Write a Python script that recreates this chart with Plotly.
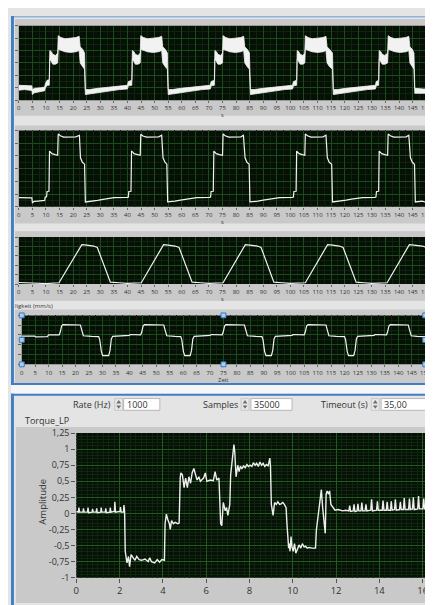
import plotly.graph_objects as go

# ---------------- data ----------------
# Panel 1: noisy torque band (lower / upper envelope), y in grid divisions 0..6
p1_t = [0, 2.0, 4.8, 5.0, 5.8, 8.0, 9.5, 9.8, 10.4, 11.2,
        11.4, 12.0, 12.5, 13.5, 14.3, 14.5, 15.5, 17.0, 19.0, 21.0, 22.2, 22.6, 23.5, 24.2,
        24.5, 26.0, 29.0, 33.0, 37.0, 40.0, 40.3, 41.6,
        41.8, 42.4, 42.9, 43.9, 44.7, 44.9, 45.9, 47.4, 49.4, 51.4, 52.6, 53.0, 53.9, 54.7,
        55.0, 56.5, 59.5, 63.5, 67.5, 70.5, 70.8, 72.0,
        72.2, 72.8, 73.3, 74.3, 75.0, 75.2, 76.2, 77.7, 79.7, 81.7, 82.8, 83.2, 84.1, 84.9,
        85.3, 86.8, 89.8, 93.8, 97.8, 100.8, 101.1, 102.3,
        102.5, 103.1, 103.6, 104.6, 105.3, 105.5, 106.5, 108.0, 110.0, 112.0, 113.1, 113.5, 114.4, 115.5,
        115.8, 117.3, 120.3, 124.3, 128.3, 131.3, 131.6, 132.5,
        132.7, 133.3, 133.8, 134.8, 135.8, 136.0, 137.0, 138.5, 140.5, 142.5, 143.6, 144.0, 144.9, 145.5,
        145.8, 147.5, 149.0, 150]
p1_lo = [0.80, 0.85, 0.78, 0.45, 0.60, 0.68, 0.75, 1.00, 1.20, 1.20,
         3.30, 3.10, 2.90, 2.90, 3.00, 4.10, 4.00, 3.90, 3.85, 3.90, 4.00, 3.00, 2.70, 2.50,
         0.45, 0.50, 0.60, 0.75, 0.85, 0.90, 1.15, 1.20,
         3.30, 3.10, 2.90, 2.90, 3.00, 4.10, 4.00, 3.90, 3.85, 3.90, 4.00, 3.00, 2.70, 2.50,
         0.45, 0.50, 0.60, 0.75, 0.85, 0.90, 1.15, 1.20,
         3.30, 3.10, 2.90, 2.90, 3.00, 4.10, 4.00, 3.90, 3.85, 3.90, 4.00, 3.00, 2.70, 2.50,
         0.45, 0.50, 0.60, 0.75, 0.85, 0.90, 1.15, 1.20,
         3.30, 3.10, 2.90, 2.90, 3.00, 4.10, 4.00, 3.90, 3.85, 3.90, 4.00, 3.00, 2.70, 2.50,
         0.45, 0.50, 0.60, 0.75, 0.85, 0.90, 1.15, 1.20,
         3.30, 3.10, 2.90, 2.90, 3.00, 4.10, 4.00, 3.90, 3.85, 3.90, 4.00, 3.00, 2.70, 2.50,
         0.55, 0.55, 0.50, 0.55]
p1_hi = [1.20, 1.18, 1.15, 0.85, 0.95, 1.00, 1.05, 1.35, 1.60, 1.65,
         4.00, 3.90, 3.70, 3.60, 3.80, 5.20, 5.05, 4.95, 5.00, 5.05, 5.15, 4.30, 4.10, 3.80,
         0.85, 0.85, 0.95, 1.05, 1.15, 1.20, 1.50, 1.60,
         4.00, 3.90, 3.70, 3.60, 3.80, 5.20, 5.05, 4.95, 5.00, 5.05, 5.15, 4.30, 4.10, 3.80,
         0.85, 0.85, 0.95, 1.05, 1.15, 1.20, 1.50, 1.60,
         4.00, 3.90, 3.70, 3.60, 3.80, 5.20, 5.05, 4.95, 5.00, 5.05, 5.15, 4.30, 4.10, 3.80,
         0.85, 0.85, 0.95, 1.05, 1.15, 1.20, 1.50, 1.60,
         4.00, 3.90, 3.70, 3.60, 3.80, 5.20, 5.05, 4.95, 5.00, 5.05, 5.15, 4.30, 4.10, 3.80,
         0.85, 0.85, 0.95, 1.05, 1.15, 1.20, 1.50, 1.60,
         4.00, 3.90, 3.70, 3.60, 3.80, 5.20, 5.05, 4.95, 5.00, 5.05, 5.15, 4.30, 4.10, 3.80,
         0.95, 0.90, 0.90, 0.90]

# Panel 2: filtered torque, divisions 0..6
p2_t = [0, 3.0, 4.8, 5.0, 5.6, 7.0, 8.5, 9.5, 9.7, 10.2, 10.4, 11.1,
        11.3, 11.8, 12.2, 13.4, 14.3, 14.5, 15.3, 16.5, 19.0, 21.0, 22.3, 22.7, 23.4, 24.2,
        24.5, 25.5, 27.0, 29.0, 31.0, 33.0, 35.0, 39.8, 40.3, 40.5, 41.3,
        41.5, 42.0, 42.4, 43.6, 44.7, 44.9, 45.7, 47.0, 49.5, 51.5, 52.6, 53.1, 53.8, 54.5,
        54.8, 56.0, 57.5, 59.5, 61.5, 63.5, 65.5, 70.2, 70.6, 70.8, 71.6,
        71.8, 72.3, 72.7, 73.9, 75.0, 75.2, 76.0, 77.3, 79.8, 81.8, 82.7, 83.3, 84.0, 84.8,
        85.1, 86.3, 88.0, 90.0, 92.0, 94.0, 96.0, 100.7, 101.1, 101.3, 102.1,
        102.3, 102.8, 103.2, 104.4, 105.3, 105.5, 106.3, 107.6, 110.0, 112.0, 113.1, 113.6, 114.3, 115.2,
        115.5, 116.7, 118.5, 120.5, 122.5, 124.5, 126.5, 131.1, 131.5, 131.7, 132.5,
        132.7, 133.2, 133.6, 134.8, 135.8, 136.0, 136.8, 138.1, 140.6, 142.6, 143.6, 144.2, 144.9, 145.7,
        146.0, 147.0, 148.5, 149.5, 150]
p2_v = [0.72, 0.72, 0.70, 0.33, 0.42, 0.45, 0.48, 0.50, 0.76, 0.78, 1.20, 1.22,
        4.38, 4.30, 4.18, 4.10, 4.05, 5.72, 5.58, 5.48, 5.46, 5.50, 5.62, 3.85, 3.50, 3.35,
        0.38, 0.40, 0.42, 0.50, 0.58, 0.66, 0.72, 0.74, 0.76, 1.20, 1.22,
        4.36, 4.30, 4.18, 4.10, 4.05, 5.70, 5.56, 5.48, 5.46, 5.50, 5.62, 3.85, 3.50, 3.35,
        0.38, 0.40, 0.44, 0.52, 0.60, 0.68, 0.72, 0.74, 0.76, 1.20, 1.22,
        4.38, 4.30, 4.18, 4.10, 4.05, 5.72, 5.58, 5.48, 5.46, 5.50, 5.62, 3.85, 3.50, 3.35,
        0.38, 0.40, 0.44, 0.52, 0.60, 0.68, 0.72, 0.74, 0.76, 1.20, 1.22,
        4.38, 4.30, 4.18, 4.10, 4.05, 5.72, 5.58, 5.48, 5.46, 5.50, 5.62, 3.85, 3.50, 3.35,
        0.38, 0.40, 0.44, 0.52, 0.60, 0.68, 0.72, 0.74, 0.76, 1.20, 1.22,
        4.38, 4.30, 4.18, 4.10, 4.05, 5.72, 5.58, 5.48, 5.46, 5.50, 5.62, 3.85, 3.50, 3.35,
        0.38, 0.40, 0.45, 0.38, 0.42]

# Panel 3: speed trapezoid, divisions 0..5
p3_t = [0, 5, 10, 14.8, 23.2, 25.0, 27.5, 28.9, 33.7, 37, 40,
        45.1, 53.3, 55.0, 57.5, 59.0, 63.8, 67, 70,
        75.2, 83.4, 85.0, 87.8, 89.2, 93.9, 97, 100,
        105.5, 113.7, 115.5, 118.0, 119.4, 124.2, 127, 130,
        135.6, 143.8, 145.5, 148.5, 150]
p3_v = [0.17, 0.12, 0.06, 0.14, 4.20, 4.15, 4.05, 3.90, 0.20, 0.14, 0.08,
        0.14, 4.20, 4.15, 4.05, 3.90, 0.20, 0.14, 0.08,
        0.14, 4.20, 4.15, 4.05, 3.90, 0.20, 0.14, 0.08,
        0.14, 4.20, 4.15, 4.05, 3.90, 0.20, 0.14, 0.08,
        0.14, 4.20, 4.15, 4.05, 3.92]

# Panel 4: acceleration, divisions 0..5
p4_t = [0, 4.8, 5.2, 9.5, 10.0, 13.9, 14.3, 14.8, 15.3, 18, 21.8, 22.3, 22.9, 26, 28.6,
        29.0, 29.6, 30.1, 32.3, 32.8, 33.3, 33.8, 37, 40, 40.3,
        44.2, 44.6, 45.1, 45.6, 49, 52.8, 53.3, 53.9, 57, 59.1,
        59.5, 60.1, 60.6, 62.6, 63.1, 63.6, 64.1, 67, 70, 70.5,
        74.5, 74.9, 75.4, 75.9, 79, 82.8, 83.3, 83.9, 87, 89.3,
        89.7, 90.3, 90.8, 92.8, 93.3, 93.8, 94.3, 97, 100.5, 100.8,
        105.0, 105.4, 105.9, 106.4, 110, 113.1, 113.6, 114.2, 117, 120.0,
        120.4, 121.0, 121.5, 123.4, 123.9, 124.4, 124.9, 128, 131, 131.3,
        135.6, 136.0, 136.5, 137.0, 140, 143.7, 144.2, 144.8, 147, 150]
p4_v = [2.88, 2.88, 2.80, 2.82, 3.00, 3.00, 3.30, 3.90, 4.05, 4.05, 4.02, 3.50, 2.92, 2.86, 2.84,
        2.50, 1.30, 0.88, 0.88, 1.40, 2.60, 2.86, 2.90, 2.95, 3.05,
        3.02, 3.30, 3.90, 4.05, 4.05, 4.02, 3.50, 2.92, 2.86, 2.84,
        2.50, 1.30, 0.88, 0.88, 1.40, 2.60, 2.86, 2.90, 2.95, 3.05,
        3.02, 3.30, 3.90, 4.05, 4.05, 4.02, 3.50, 2.92, 2.86, 2.84,
        2.50, 1.30, 0.88, 0.88, 1.40, 2.60, 2.86, 2.90, 2.95, 3.05,
        3.02, 3.30, 3.90, 4.05, 4.05, 4.02, 3.50, 2.92, 2.86, 2.84,
        2.50, 1.30, 0.88, 0.88, 1.40, 2.60, 2.86, 2.90, 2.95, 3.05,
        3.02, 3.30, 3.90, 4.05, 4.05, 4.02, 3.50, 2.92, 2.86, 2.84]

# Bottom: Torque_LP amplitude vs time
tq_t = [0.00, 0.10, 0.12, 0.15, 0.31, 0.33, 0.36, 0.52, 0.54, 0.57, 0.73, 0.75, 0.78,
        0.92, 0.94, 0.97, 1.13, 1.15, 1.18, 1.34, 1.36, 1.39, 1.55, 1.57, 1.60,
        1.76, 1.78, 1.81, 2.02, 2.04, 2.07, 2.18, 2.20, 2.23,
        2.26, 2.34, 2.41, 2.46, 2.53, 2.64, 2.71, 2.79, 2.90, 3.02, 3.17, 3.32, 3.39, 3.47,
        3.62, 3.74, 3.85, 3.95, 4.07,
        4.10, 4.16, 4.22, 4.30, 4.34, 4.40, 4.48, 4.57, 4.68, 4.75,
        4.80, 4.83, 4.90, 4.98, 5.05, 5.13, 5.20, 5.28, 5.35, 5.43, 5.51, 5.58, 5.66, 5.73,
        5.88, 5.96, 6.03, 6.18, 6.33, 6.41, 6.49, 6.59,
        6.64, 6.67, 6.72, 6.79, 6.88, 6.94, 7.00, 7.09,
        7.13, 7.20, 7.28, 7.32, 7.38, 7.46, 7.52, 7.58, 7.65, 7.73, 7.80, 7.88, 7.95, 8.03,
        8.11, 8.18, 8.26, 8.33, 8.41, 8.48, 8.56, 8.63, 8.71, 8.78, 8.86, 8.94, 8.97,
        9.01, 9.09, 9.16, 9.24, 9.31, 9.39, 9.46, 9.54, 9.61, 9.69, 9.73,
        9.81, 9.84, 9.87, 9.92, 9.96, 10.02, 10.08, 10.14, 10.22, 10.29, 10.37, 10.44, 10.52,
        10.59, 10.67, 10.75, 10.90, 11.05,
        11.09, 11.17, 11.24, 11.32, 11.38, 11.44, 11.50, 11.54, 11.59, 11.65, 11.70, 11.76,
        11.80, 11.85, 11.95, 12.10, 12.30, 12.45,
        12.59, 12.63, 12.67, 12.79, 12.83, 12.87, 12.97, 13.01, 13.05, 13.15, 13.19, 13.23,
        13.34, 13.38, 13.42, 13.60, 13.64, 13.68, 13.87, 13.91, 13.95, 14.13, 14.17, 14.21,
        14.32, 14.36, 14.40, 14.51, 14.55, 14.59, 14.70, 14.74, 14.78, 14.93, 14.97, 15.01,
        15.11, 15.15, 15.19, 15.35, 15.39, 15.43, 15.53, 15.57, 15.61, 15.77, 15.81, 15.85,
        16.01, 16.05, 16.09, 16.24, 16.28, 16.31,
        16.34, 16.42, 16.50, 16.57]
tq_v = [0.03, 0.02, 0.09, 0.02, 0.02, 0.08, 0.02, 0.02, 0.09, 0.01, 0.02, 0.07, 0.02,
        0.02, 0.08, 0.01, 0.02, 0.09, 0.02, 0.02, 0.08, 0.01, 0.02, 0.09, 0.02,
        0.03, 0.18, 0.02, 0.03, 0.10, 0.02, 0.02, 0.13, 0.03,
        -0.59, -0.77, -0.67, -0.83, -0.64, -0.69, -0.73, -0.67, -0.72, -0.73, -0.71, -0.75, -0.69, -0.75,
        -0.77, -0.72, -0.76, -0.72, -0.73,
        -0.16, -0.01, -0.09, -0.16, -0.25, -0.11, -0.16, -0.14, -0.16, -0.15,
        0.55, 0.63, 0.60, 0.40, 0.55, 0.40, 0.57, 0.47, 0.63, 0.70, 0.60, 0.52, 0.57, 0.50,
        0.55, 0.63, 0.50, 0.52, 0.51, 0.65, 0.52, 0.55,
        0.09, -0.16, -0.19, 0.17, 0.04, 0.09, -0.03, 0.14,
        0.60, 0.80, 1.07, 0.96, 0.57, 0.75, 0.65, 0.73, 0.70, 0.74, 0.71, 0.76, 0.73, 0.75,
        0.73, 0.79, 0.75, 0.78, 0.73, 0.80, 0.75, 0.78, 0.73, 0.76, 0.74, 0.86, 0.73,
        0.14, -0.03, 0.17, 0.14, 0.18, 0.14, 0.15, 0.17, 0.14, 0.09, -0.16,
        -0.54, -0.47, -0.59, -0.36, -0.52, -0.59, -0.47, -0.62, -0.54, -0.49, -0.54, -0.47, -0.52,
        -0.51, -0.54, -0.53, -0.54, -0.54,
        -0.26, -0.06, 0.19, 0.37, 0.09, -0.11, -0.31, 0.30, 0.35, 0.30, 0.35, 0.14,
        0.12, 0.08, 0.05, 0.06, 0.04, 0.05,
        0.04, 0.12, 0.03, 0.04, 0.14, 0.03, 0.04, 0.15, 0.04, 0.04, 0.17, 0.04,
        0.04, 0.14, 0.04, 0.05, 0.22, 0.04, 0.05, 0.19, 0.05, 0.05, 0.20, 0.05,
        0.05, 0.18, 0.05, 0.05, 0.19, 0.05, 0.06, 0.22, 0.05, 0.06, 0.18, 0.06,
        0.06, 0.24, 0.06, 0.06, 0.23, 0.06, 0.07, 0.25, 0.06, 0.07, 0.27, 0.07,
        0.07, 0.23, 0.07, 0.08, 0.27, 0.09,
        -0.54, -0.67, -0.85, -0.92]

top_ticks = list(range(0, 151, 5))
tq_xticks = list(range(0, 17, 2))
tq_yticks = [1.25, 1.0, 0.75, 0.5, 0.25, 0.0, -0.25, -0.5, -0.75, -1.0]
tq_ylabels = ["1,25", "1", "0,75", "0,5", "0,25", "0", "-0,25", "-0,5", "-0,75", "-1"]

# ---------------- figure ----------------
W, H = 433, 605
def fx(x): return x / W
def fy(y): return 1 - y / H

FONT = "Open Sans"
TXT = "#333333"
LINE = "#f2f2f2"
PLOTBG = "#061006"
GRID_T = "#1a4d1a"
GRID_TM = "#0c240c"

fig = go.Figure()
fig.add_trace(go.Scatter(x=p1_t, y=p1_lo, mode="lines", line=dict(color=LINE, width=0.8),
                         xaxis="x", yaxis="y", hoverinfo="skip"))
fig.add_trace(go.Scatter(x=p1_t, y=p1_hi, mode="lines", line=dict(color=LINE, width=0.8),
                         fill="tonexty", fillcolor=LINE, xaxis="x", yaxis="y", hoverinfo="skip"))
fig.add_trace(go.Scatter(x=p2_t, y=p2_v, mode="lines", line=dict(color=LINE, width=1.2),
                         xaxis="x2", yaxis="y2"))
fig.add_trace(go.Scatter(x=p3_t, y=p3_v, mode="lines", line=dict(color=LINE, width=1.2),
                         xaxis="x3", yaxis="y3"))
fig.add_trace(go.Scatter(x=p4_t, y=p4_v, mode="lines", line=dict(color=LINE, width=1.2),
                         xaxis="x4", yaxis="y4"))
fig.add_trace(go.Scatter(x=tq_t, y=tq_v, mode="lines", line=dict(color="#eeeeee", width=1.4),
                         xaxis="x5", yaxis="y5"))

def top_x(x0, x1, anchor):
    return dict(domain=[fx(x0), fx(x1)], range=[0, 150], anchor=anchor,
                tickmode="array", tickvals=top_ticks, ticktext=[str(v) for v in top_ticks],
                tickfont=dict(size=6, color=TXT), ticks="outside", ticklen=2, tickcolor="#666",
                showgrid=True, gridcolor=GRID_T, gridwidth=1,
                minor=dict(dtick=2.5, showgrid=True, gridcolor=GRID_TM),
                zeroline=False, showline=False, fixedrange=True)

def top_y(y0, y1, top, anchor):
    return dict(domain=[fy(y1), fy(y0)], range=[0, top], anchor=anchor,
                tickmode="linear", tick0=0, dtick=1, showticklabels=False,
                ticks="outside", ticklen=3, tickcolor="#666",
                showgrid=True, gridcolor=GRID_T,
                minor=dict(dtick=0.5, showgrid=True, gridcolor=GRID_TM),
                zeroline=False, showline=False, fixedrange=True)

shapes = []
def rect(x0, y0, x1, y1, fill, line=None, lw=0, layer="below"):
    shapes.append(dict(type="rect", xref="paper", yref="paper",
                       x0=fx(x0), x1=fx(x1), y0=fy(y1), y1=fy(y0),
                       fillcolor=fill, line=dict(color=line or fill, width=lw), layer=layer))

GREY = "#c9c9c9"
BLUE = "#3f7fc6"
# graph frames
rect(4, 4, 429, 103, GREY)
rect(4, 113, 429, 213, GREY)
rect(4, 221, 429, 292, GREY)
rect(4, 301, 429, 376, GREY)
rect(5, 421, 433, 601, GREY)
# selection borders
rect(0, 1, 433, 2.5, "#8fb3dc")
rect(0, 1, 3, 378, BLUE)
rect(0, 376, 433, 378, BLUE)
rect(0, 378, 433, 387, "#f6f6f6")
rect(0, 387, 433, 389, BLUE)
rect(0, 387, 3, 605, BLUE)
# dark plot areas (drawn in each subplot, below the grid)
for i in ["", "2", "3", "4", "5"]:
    shapes.append(dict(type="rect", xref=f"x{i} domain", yref=f"y{i} domain",
                       x0=0, x1=1, y0=0, y1=1, fillcolor=PLOTBG,
                       line=dict(width=0), layer="below"))
# input boxes
for bx0, bx1 in [(115, 152), (245, 287), (378, 428)]:
    rect(bx0, 392, bx1, 404, "#ffffff", line="#a8a8a8", lw=0.8)
# spinners
for sx in [106, 235, 368]:
    rect(sx, 392, sx + 8, 404, "#e9e9e9", line="#b5b5b5", lw=0.6)
    for (ya, yb) in [(397, 393.5), (399, 402.5)]:
        shapes.append(dict(type="path", xref="paper", yref="paper",
                           path=f"M {fx(sx+1.5)} {fy(ya)} L {fx(sx+6.5)} {fy(ya)} L {fx(sx+4)} {fy(yb)} Z",
                           fillcolor="#707070", line=dict(width=0), layer="above"))
# selection handles on panel 4
for hx in [11, 217, 423]:
    for hy in [307, 332, 357]:
        if hx == 217 and hy == 332:
            continue
        rect(hx - 2.5, hy - 2.5, hx + 2.5, hy + 2.5, "#a9cdf0", line="#3a78c2", lw=1, layer="above")

ann = []
def text(x, y, s, size=6, xanchor="center", yanchor="middle", angle=0, color=TXT):
    ann.append(dict(x=fx(x), y=fy(y), xref="paper", yref="paper", text=s, showarrow=False,
                    xanchor=xanchor, yanchor=yanchor, textangle=angle, borderpad=0,
                    font=dict(size=size, color=color, family=FONT)))

text(216, 102, "s", size=5.5)
text(216, 211.5, "s", size=5.5)
text(216, 290, "s", size=5.5)
text(3, 297.5, "ligkeit (mm/s)", xanchor="left")
text(217, 373, "Zeit")
text(13, 414.5, "Torque_LP", size=9, xanchor="left")
text(103, 398, "Rate (Hz)", size=9, xanchor="right")
text(233, 398, "Samples", size=9, xanchor="right")
text(366, 398, "Timeout (s)", size=9, xanchor="right")
text(117, 398, "1000", size=9, xanchor="left")
text(247, 398, "35000", size=9, xanchor="left")
text(380, 398, "35,00", size=9, xanchor="left")
text(32, 497, "Amplitude", size=9.5, angle=-90)

fig.update_layout(
    width=W, height=H, margin=dict(l=0, r=0, t=0, b=0),
    paper_bgcolor="#e4e4e4", plot_bgcolor=PLOTBG,
    showlegend=False, font=dict(family=FONT, color=TXT),
    xaxis=top_x(8, 424, "y"), yaxis=top_y(11, 87, 6, "x"),
    xaxis2=top_x(8, 424, "y2"), yaxis2=top_y(118, 196, 6, "x2"),
    xaxis3=top_x(8, 424, "y3"), yaxis3=top_y(227, 275, 5, "x3"),
    xaxis4=top_x(11, 423, "y4"), yaxis4=top_y(307, 357, 5, "x4"),
    xaxis5=dict(domain=[fx(66.7), 1.0], range=[0, 16.57], anchor="y5",
                tickmode="array", tickvals=tq_xticks, ticktext=[str(v) for v in tq_xticks],
                tickfont=dict(size=9.5, color=TXT), ticks="outside", ticklen=4, tickcolor="#555",
                showgrid=True, gridcolor="#1f5a1f",
                minor=dict(tickvals=[v / 4 for v in range(0, 67)], showgrid=True, gridcolor="#0d260d"),
                zeroline=False, showline=False, fixedrange=True),
    yaxis5=dict(domain=[fy(575), fy(427.3)], range=[-1, 1.25], anchor="x5",
                tickmode="array", tickvals=tq_yticks, ticktext=tq_ylabels,
                tickfont=dict(size=9, color=TXT), ticks="outside", ticklen=4, tickcolor="#555",
                showgrid=True, gridcolor="#1f5a1f",
                minor=dict(tickvals=[v / 20 for v in range(-20, 26)], showgrid=True, gridcolor="#0d260d"),
                zeroline=False, showline=False, fixedrange=True),
    shapes=shapes, annotations=ann,
)

fig.write_html("out.html")
